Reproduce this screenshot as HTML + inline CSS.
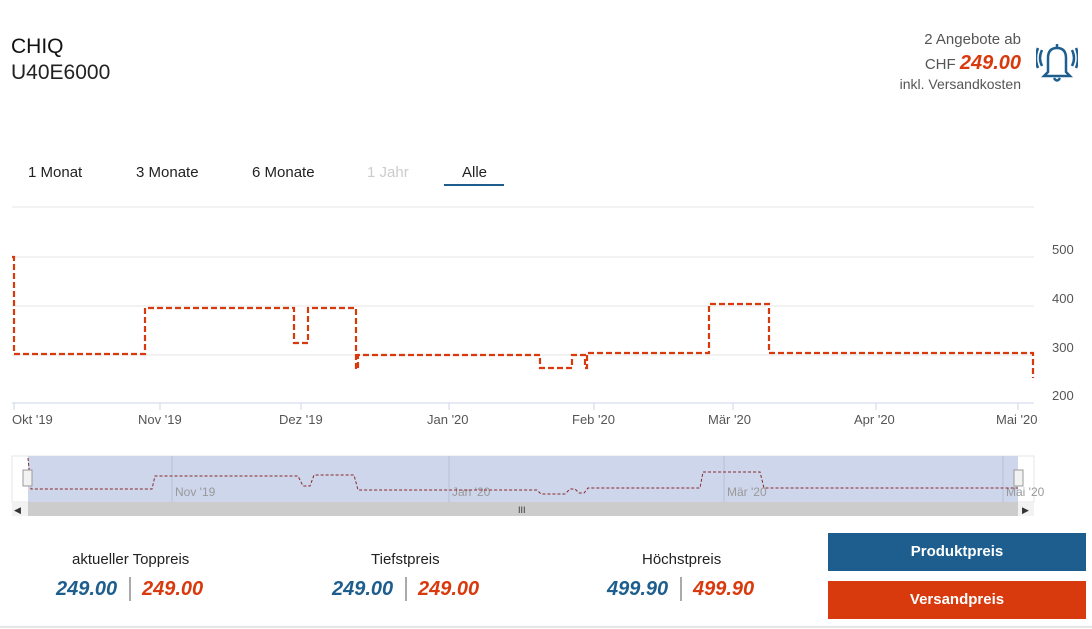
<!DOCTYPE html>
<html><head><meta charset="utf-8"><style>
body{margin:0;width:1092px;height:629px;background:#fff;font-family:"Liberation Sans",sans-serif;position:relative;overflow:hidden;color:#222}
.a{position:absolute;white-space:nowrap}
</style></head><body>
<div class="a" style="left:11px;top:35px;font-size:21px;color:#111">CHIQ</div>
<div class="a" style="left:11px;top:61px;font-size:21px;color:#222">U40E6000</div>
<div class="a" style="right:71px;top:31px;font-size:15px;color:#555">2 Angebote ab</div>
<div class="a" style="right:71px;top:52px;font-size:15px;color:#555">CHF <b style="color:#d83a0d;font-style:italic;font-size:20px">249.00</b></div>
<div class="a" style="right:71px;top:76px;font-size:14px;color:#555">inkl. Versandkosten</div>
<svg class="a" style="left:1036px;top:40px" width="42" height="44" viewBox="0 0 42 44" fill="none" stroke="#1d5e8e" stroke-width="2.5">
<path d="M12 32 L12 18 Q12 8 21 8 Q30 8 30 18 L30 32 L34 36 L8 36 Z"/><path d="M18 38 Q21 43 24 38"/><path d="M21 8 V4"/>
<path d="M6 10 Q2 18 6 26"/><path d="M2 8 Q-2 18 2 28"/><path d="M36 10 Q40 18 36 26"/><path d="M40 8 Q44 18 40 28"/></svg>
<div class="a" style="left:28px;top:164px;font-size:15px">1 Monat</div>
<div class="a" style="left:136px;top:164px;font-size:15px">3 Monate</div>
<div class="a" style="left:252px;top:164px;font-size:15px">6 Monate</div>
<div class="a" style="left:367px;top:164px;font-size:15px;color:#ccc">1 Jahr</div>
<div class="a" style="left:462px;top:164px;font-size:15px">Alle</div>
<div class="a" style="left:444px;top:184px;width:60px;height:2px;background:#1d5e8e"></div>
<svg class="a" style="left:0;top:0" width="1092" height="629">
<line x1="12" y1="207" x2="1034" y2="207" stroke="#e6e6e6"/>
<g stroke="#e6e6e6"><line x1="12" y1="257" x2="1034" y2="257"/><line x1="12" y1="306" x2="1034" y2="306"/><line x1="12" y1="355" x2="1034" y2="355"/></g>
<line x1="12" y1="403" x2="1034" y2="403" stroke="#ccd6eb"/>
<g stroke="#ccd6eb"><line x1="14" y1="403" x2="14" y2="410"/><line x1="160" y1="403" x2="160" y2="410"/><line x1="301" y1="403" x2="301" y2="410"/><line x1="449" y1="403" x2="449" y2="410"/><line x1="594" y1="403" x2="594" y2="410"/><line x1="733" y1="403" x2="733" y2="410"/><line x1="876" y1="403" x2="876" y2="410"/><line x1="1018" y1="403" x2="1018" y2="410"/></g>
<g font-size="13" fill="#555" font-family="Liberation Sans"><text x="1052" y="254">500</text><text x="1052" y="303">400</text><text x="1052" y="352">300</text><text x="1052" y="400">200</text>
<text x="12" y="424">Okt '19</text><text x="138" y="424">Nov '19</text><text x="279" y="424">Dez '19</text><text x="427" y="424">Jan '20</text><text x="572" y="424">Feb '20</text><text x="708" y="424">Mär '20</text><text x="854" y="424">Apr '20</text><text x="996" y="424">Mai '20</text></g>
<path d="M12 257 H14 V354 H145 V308 H294 V343 H308 V308 H356 V369 H358 V355 H540 V368 H572 V355 H585 V368 H587 V353 H709 V304 H769 V353 H1033 V378" fill="none" stroke="#d83a0d" stroke-width="2.2" stroke-dasharray="6,3"/>
<rect x="12" y="456" width="1022" height="46" fill="#fff" stroke="#e6e6e6"/>
<rect x="28" y="456" width="990" height="46" fill="#cdd6ea"/>
<g stroke="#b8c2d8"><line x1="172" y1="456" x2="172" y2="502"/><line x1="449" y1="456" x2="449" y2="502"/><line x1="724" y1="456" x2="724" y2="502"/><line x1="1003" y1="456" x2="1003" y2="502"/></g>
<g font-size="12" fill="#999"><text x="175" y="496">Nov '19</text><text x="452" y="496">Jan '20</text><text x="727" y="496">Mär '20</text><text x="1006" y="496">Mai '20</text></g>
<path d="M28 458 L31 489 H152 L155 476 H298 L303 486 H310 L314 475 H354 L358 490 H537 L541 494 H565 L570 489 H575 L579 493 H584 L588 488 H700 L703 472 H760 L764 488 H1018" fill="none" stroke="#8b2a2a" stroke-width="1" stroke-dasharray="3,2"/>
<rect x="23" y="470" width="9" height="16" fill="#f2f2f2" stroke="#999"/><rect x="1014" y="470" width="9" height="16" fill="#f2f2f2" stroke="#999"/>
<rect x="12" y="502" width="1022" height="14" fill="#f2f2f2"/><rect x="28" y="502" width="990" height="14" fill="#ccc"/>
<text x="14" y="513" font-size="9" fill="#333">◀</text><text x="1022" y="513" font-size="9" fill="#333">▶</text><text x="518" y="513" font-size="9" fill="#333">III</text>
<line x1="0" y1="627" x2="1092" y2="627" stroke="#ccc"/>
<line x1="130" y1="577" x2="130" y2="601" stroke="#555"/><line x1="406" y1="577" x2="406" y2="601" stroke="#555"/><line x1="681" y1="577" x2="681" y2="601" stroke="#555"/>
</svg>
<div class="a" style="left:72px;top:551px;font-size:15px">aktueller Toppreis</div>
<div class="a" style="left:371px;top:551px;font-size:15px">Tiefstpreis</div>
<div class="a" style="left:642px;top:551px;font-size:15px">Höchstpreis</div>
<div class="a" style="left:56px;top:578px;font-size:20px;font-weight:bold;font-style:italic;color:#1d5e8e">249.00</div>
<div class="a" style="left:142px;top:578px;font-size:20px;font-weight:bold;font-style:italic;color:#d83a0d">249.00</div>
<div class="a" style="left:332px;top:578px;font-size:20px;font-weight:bold;font-style:italic;color:#1d5e8e">249.00</div>
<div class="a" style="left:418px;top:578px;font-size:20px;font-weight:bold;font-style:italic;color:#d83a0d">249.00</div>
<div class="a" style="left:607px;top:578px;font-size:20px;font-weight:bold;font-style:italic;color:#1d5e8e">499.90</div>
<div class="a" style="left:693px;top:578px;font-size:20px;font-weight:bold;font-style:italic;color:#d83a0d">499.90</div>
<div class="a" style="left:828px;top:533px;width:258px;height:38px;background:#1d5e8e;color:#fff;font-size:15px;font-weight:bold;text-align:center;line-height:38px">Produktpreis</div>
<div class="a" style="left:828px;top:581px;width:258px;height:38px;background:#d83a0d;color:#fff;font-size:15px;font-weight:bold;text-align:center;line-height:38px">Versandpreis</div>
</body></html>
